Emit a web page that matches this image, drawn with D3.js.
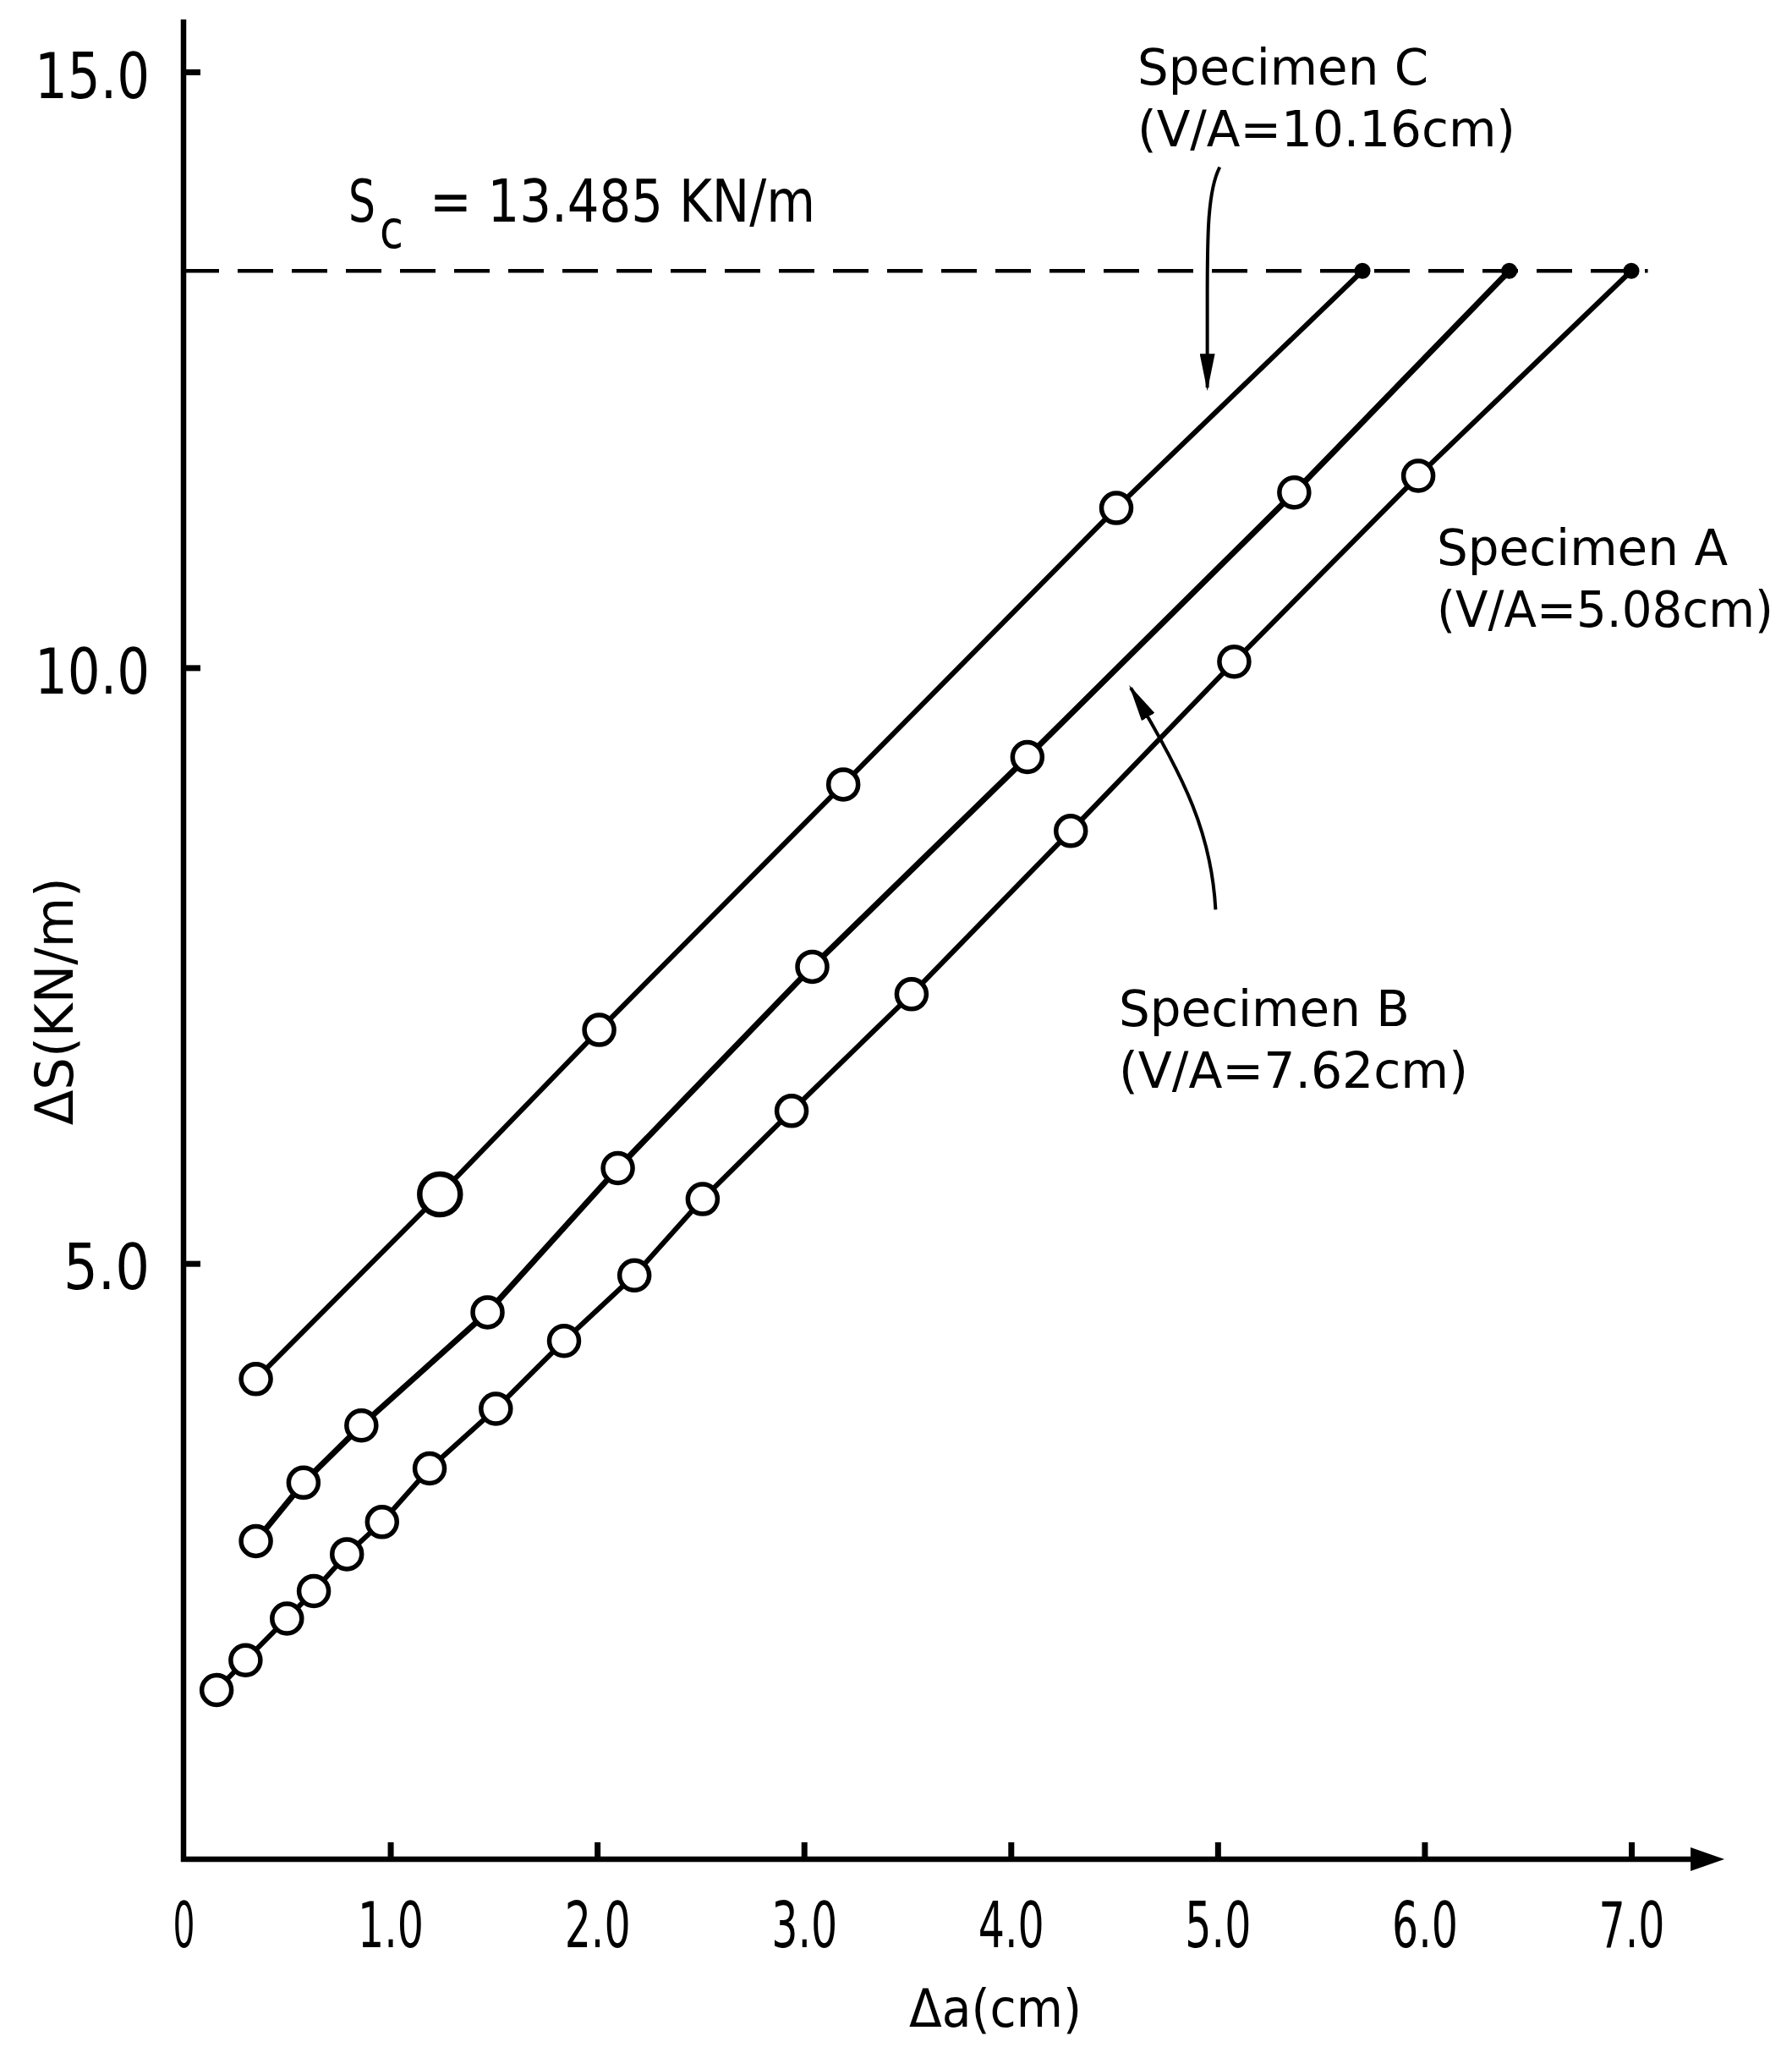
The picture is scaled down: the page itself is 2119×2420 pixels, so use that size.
<!DOCTYPE html>
<html>
<head>
<meta charset="utf-8">
<script src="https://cdn.jsdelivr.net/npm/d3@7/dist/d3.min.js"></script>
<style>
  html, body { margin: 0; background: #fff; }
  svg { display: block; }
  text { font-family: "DejaVu Sans", "Liberation Sans", sans-serif; font-stretch: condensed; fill: #000; }
</style>
</head>
<body>
<svg id="chart" width="2119" height="2420"></svg>
<script>
/* ── Data ───────────────────────────────────────────────────────── */
const xTickVals = [0, 1, 2, 3, 4, 5, 6, 7];
const yTickVals = [5, 10, 15];

// Specimen A  (V/A = 5.08 cm)
const aX = [0.16, 0.30, 0.50, 0.63, 0.79, 0.96, 1.19, 1.51, 1.84, 2.18, 2.51, 2.94, 3.52, 4.29, 5.08, 5.97];
const aY = [1.42, 1.67, 2.02, 2.25, 2.56, 2.83, 3.28, 3.78, 4.35, 4.90, 5.54, 6.28, 7.26, 8.63, 10.05, 11.61];
// Specimen B  (V/A = 7.62 cm)
const bX = [0.35, 0.58, 0.86, 1.47, 2.10, 3.04, 4.08, 5.37];
const bY = [2.67, 3.16, 3.64, 4.59, 5.80, 7.49, 9.25, 11.47];
// Specimen C  (V/A = 10.16 cm)
const cX = [0.35, 1.24, 2.01, 3.19, 4.51];
const cY = [4.03, 5.58, 6.96, 9.02, 11.34];

// crack growth where each curve reaches the critical level (A, B, C)
const critX = [7.00, 6.41, 5.70];
const SC_LEVEL = 13.33;     // level of the dashed line as drawn
const SC_LABEL = '13.485';  // value printed on the figure

/* ── Layout ──────────────────────────────────────────────────────── */
const X0 = 217, X7 = 1929;     // px of Δa = 0 and 7
const Y0 = 2198, Y15 = 85;     // px of ΔS = 0 and 15
const FONT = 74;

const x = d3.scaleLinear().domain([0, 7]).range([X0, X7]);
const y = d3.scaleLinear().domain([0, 15]).range([Y0, Y15]);

const svg = d3.select('#chart');

/* arrowhead marker for the annotation arrows */
svg.append('defs').append('marker')
  .attr('id', 'head')
  .attr('viewBox', '0 -9 44 18')
  .attr('refX', 40).attr('refY', 0)
  .attr('markerWidth', 44).attr('markerHeight', 18)
  .attr('markerUnits', 'userSpaceOnUse')
  .attr('orient', 'auto')
  .append('path').attr('d', 'M0,-9 L44,0 L0,9 Z').attr('fill', '#000');

/* ── Axes ────────────────────────────────────────────────────────── */
const fmt = d => d === 0 ? '0' : d.toFixed(1);

const yAxis = svg.append('g')
  .attr('transform', `translate(${X0},0)`)
  .call(d3.axisLeft(y).tickValues(yTickVals).tickFormat(fmt)
          .tickSizeInner(-20).tickSizeOuter(0).tickPadding(40));
yAxis.select('.domain').remove();
yAxis.selectAll('.tick line').attr('stroke', '#000').attr('stroke-width', 7);
yAxis.selectAll('.tick text')
  .attr('font-size', FONT).attr('font-family', null)
  .attr('dy', 30)
  .attr('textLength', function () { return this.textContent.length * 34; })
  .attr('lengthAdjust', 'spacingAndGlyphs');

const xAxis = svg.append('g')
  .attr('transform', `translate(0,${Y0})`)
  .call(d3.axisBottom(x).tickValues(xTickVals).tickFormat(fmt)
          .tickSizeInner(-20).tickSizeOuter(0).tickPadding(0));
xAxis.select('.domain').remove();
xAxis.selectAll('.tick line')
  .attr('stroke', '#000').attr('stroke-width', 7)
  .attr('opacity', d => d === 0 ? 0 : 1);
xAxis.selectAll('.tick text')
  .attr('font-size', FONT).attr('font-family', null)
  .attr('dy', null).attr('y', 104)
  .attr('textLength', function () { return this.textContent.length * 26; })
  .attr('lengthAdjust', 'spacingAndGlyphs');

// axis lines: vertical one runs a little past 15, horizontal one ends in an arrow
svg.append('line')
  .attr('x1', X0).attr('x2', X0).attr('y1', Y0 + 3).attr('y2', y(15) - 62)
  .attr('stroke', '#000').attr('stroke-width', 6.5);
const xEnd = x(7.45);
svg.append('line')
  .attr('x1', X0 - 3).attr('x2', xEnd - 20).attr('y1', Y0).attr('y2', Y0)
  .attr('stroke', '#000').attr('stroke-width', 6.5);
svg.append('path')
  .attr('d', `M${xEnd},${Y0} L${xEnd - 40},${Y0 - 14} L${xEnd - 40},${Y0 + 14} Z`)
  .attr('fill', '#000');

/* axis titles */
svg.append('text')
  .attr('transform', `translate(86,${y(7.2)}) rotate(-90)`)
  .attr('text-anchor', 'middle')
  .attr('font-size', 63)
  .attr('textLength', 293).attr('lengthAdjust', 'spacingAndGlyphs')
  .text('ΔS(KN/m)');

svg.append('text')
  .attr('x', 1177).attr('y', 2396)
  .attr('text-anchor', 'middle')
  .attr('font-size', 63)
  .attr('textLength', 204).attr('lengthAdjust', 'spacingAndGlyphs')
  .text('Δa(cm)');

/* ── Critical level ──────────────────────────────────────────────── */
svg.append('line')
  .attr('x1', X0).attr('x2', x(7.08))
  .attr('y1', y(SC_LEVEL)).attr('y2', y(SC_LEVEL))
  .attr('stroke', '#000').attr('stroke-width', 4.5)
  .attr('stroke-dasharray', '42 22');

svg.append('text').attr('x', 412).attr('y', 262)
  .attr('font-size', 70)
  .attr('textLength', 32).attr('lengthAdjust', 'spacingAndGlyphs')
  .text('S');
svg.append('text').attr('x', 449).attr('y', 293)
  .attr('font-size', 62)
  .attr('textLength', 28).attr('lengthAdjust', 'spacingAndGlyphs')
  .text('c');
svg.append('text').attr('x', 508).attr('y', 262)
  .attr('font-size', 70)
  .attr('textLength', 456).attr('lengthAdjust', 'spacingAndGlyphs')
  .text(`= ${SC_LABEL} KN/m`);

/* ── Series ──────────────────────────────────────────────────────── */
const series = [
  { name: 'A', xs: aX, ys: aY, end: critX[0], w: 6 },
  { name: 'B', xs: bX, ys: bY, end: critX[1], w: 7 },
  { name: 'C', xs: cX, ys: cY, end: critX[2], w: 6 },
].map(s => ({
  ...s,
  pts: s.xs.map((v, i) => ({ x: v, y: s.ys[i], big: s.name === 'C' && i === 1 })),
}));

const line = d3.line().x(d => x(d.x)).y(d => y(d.y));

svg.append('g').selectAll('path')
  .data(series)
  .join('path')
  .attr('d', s => line([...s.pts, { x: s.end, y: SC_LEVEL }]))
  .attr('fill', 'none')
  .attr('stroke', '#000')
  .attr('stroke-width', s => s.w)
  .attr('stroke-linejoin', 'round');

svg.append('g').selectAll('circle')
  .data(series.flatMap(s => s.pts))
  .join('circle')
  .attr('cx', d => x(d.x))
  .attr('cy', d => y(d.y))
  .attr('r', d => d.big ? 24 : 17.5)
  .attr('fill', '#fff')
  .attr('stroke', '#000')
  .attr('stroke-width', d => d.big ? 6.5 : 5.5);

svg.append('g').selectAll('circle')
  .data(series)
  .join('circle')
  .attr('cx', s => x(s.end))
  .attr('cy', y(SC_LEVEL))
  .attr('r', 9.5)
  .attr('fill', '#000');

/* ── Specimen labels and pointer arrows ─────────────────────────── */
const labels = [
  { lines: ['Specimen C', '(V/A=10.16cm)'], x: 1345, y: 100, w: [344, 447] },
  { lines: ['Specimen A', '(V/A=5.08cm)'],  x: 1699, y: 668, w: [344, 398] },
  { lines: ['Specimen B', '(V/A=7.62cm)'],  x: 1323, y: 1213, w: [344, 413] },
];
labels.forEach(l => {
  l.lines.forEach((t, i) => {
    svg.append('text')
      .attr('x', l.x).attr('y', l.y + i * 73)
      .attr('font-size', 58)
      .attr('textLength', l.w[i]).attr('lengthAdjust', 'spacingAndGlyphs')
      .text(t);
  });
});

const P = (a, b) => `${x(a)},${y(b)}`;
// Specimen C pointer: from under the label down to its curve
svg.append('path')
  .attr('d', `M${P(5.01, 14.20)} C${P(4.95, 14.0)} ${P(4.95, 13.6)} ${P(4.95, 13.1)} L${P(4.95, 12.35)}`)
  .attr('fill', 'none').attr('stroke', '#000').attr('stroke-width', 4)
  .attr('marker-end', 'url(#head)');
// Specimen B pointer: from above its label up to the middle curve
svg.append('path')
  .attr('d', `M${P(4.99, 7.97)} C${P(4.97, 8.6)} ${P(4.85, 9.05)} ${P(4.58, 9.83)}`)
  .attr('fill', 'none').attr('stroke', '#000').attr('stroke-width', 4)
  .attr('marker-end', 'url(#head)');
</script>
</body>
</html>
